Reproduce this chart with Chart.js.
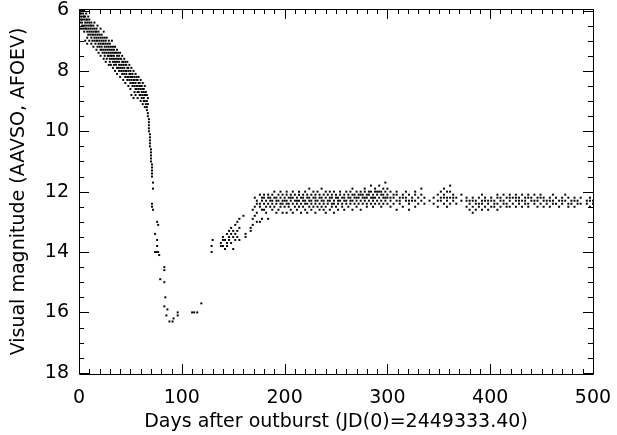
<!DOCTYPE html>
<html lang="en">
<head>
    <meta charset="UTF-8">
    <title>Visual light curve</title>
    <script src="https://cdn.jsdelivr.net/npm/chart.js"></script>
    <style>
        body {
            margin: 0;
            background: #ffffff;
        }
        #lightCurve {
            display: block;
        }
    </style>
</head>
<body>
    <canvas id="lightCurve" width="617" height="435"></canvas>

    <script>
        // slow decline from maximum: one row of estimates per day
        const declineDays = [0, 1, 2, 3, 4, 5, 6, 7, 8, 9, 10, 11, 12, 13, 14, 15, 16, 17, 18, 19, 20, 21, 22, 23,
            24, 25, 26, 27, 28, 29, 30, 31, 32, 33, 34, 35, 36, 37, 38, 39, 40, 41, 42, 43, 44, 45, 46, 47,
            48, 49, 50, 51, 52, 53, 54, 55, 56, 57, 58, 59, 60, 61, 62, 63, 64, 65, 66, 67];
        const declineMags = [
            [5.9, 6.0, 6.2, 6.3, 6.5], [6.0, 6.1, 6.4], [5.9, 6.1, 6.2, 6.3, 6.6], [6.0, 6.3, 6.4, 6.5],
            [6.1, 6.2, 6.6], [6.0, 6.2, 6.3, 6.5, 6.7], [6.2, 6.4, 6.6, 7.0], [6.1, 6.3, 6.5, 6.6],
            [6.3, 6.4, 6.7, 6.9, 7.1], [6.2, 6.5, 6.6, 6.8], [6.3, 6.4, 6.7, 7.0], [6.5, 6.6, 6.8],
            [6.4, 6.5, 6.7, 6.9, 7.1], [6.6, 6.8, 7.0], [6.5, 6.7, 6.8, 7.2], [6.4, 6.6, 6.9, 7.0],
            [6.7, 6.8, 7.1], [6.6, 6.7, 6.9, 7.0, 7.3], [6.5, 6.8, 7.0, 7.2], [6.7, 6.9, 7.1, 7.4],
            [6.8, 7.0, 7.2], [6.6, 6.9, 7.1, 7.3, 7.5], [6.8, 7.0, 7.2, 7.3], [6.9, 7.1, 7.4],
            [6.7, 7.0, 7.1, 7.3, 7.6], [6.9, 7.2, 7.4, 7.5], [7.0, 7.1, 7.3, 7.7], [6.9, 7.2, 7.4, 7.6],
            [7.1, 7.3, 7.5], [7.0, 7.2, 7.4, 7.5, 7.8], [7.1, 7.3, 7.6, 7.7], [7.2, 7.4, 7.5, 7.8],
            [7.0, 7.3, 7.5, 7.6], [7.2, 7.4, 7.7, 7.9], [7.3, 7.5, 7.6, 7.8], [7.2, 7.4, 7.7, 8.0],
            [7.4, 7.6, 7.8], [7.3, 7.5, 7.7, 7.9, 8.1], [7.4, 7.6, 7.9], [7.5, 7.7, 7.8, 8.0],
            [7.4, 7.6, 7.9, 8.2], [7.6, 7.8, 8.0], [7.5, 7.7, 7.9, 8.1], [7.7, 7.8, 8.0, 8.3],
            [7.6, 7.9, 8.1], [7.7, 7.8, 8.0, 8.2, 8.4], [7.8, 8.0, 8.1], [7.7, 7.9, 8.2, 8.3],
            [7.9, 8.0, 8.2, 8.5], [7.8, 8.1, 8.3], [8.0, 8.1, 8.2, 8.4, 8.6], [7.9, 8.2, 8.3, 8.8],
            [8.1, 8.2, 8.4, 8.5], [8.0, 8.3, 8.4, 8.9], [8.2, 8.3, 8.5, 8.7], [8.1, 8.4, 8.6, 8.8],
            [8.2, 8.3, 8.5, 8.6], [8.3, 8.5, 8.7, 8.9], [8.2, 8.4, 8.6, 8.7], [8.4, 8.5, 8.8],
            [8.3, 8.5, 8.6, 8.8, 9.0], [8.5, 8.7, 8.9], [8.4, 8.6, 8.8, 9.1], [8.6, 8.7, 8.9, 9.0],
            [8.5, 8.8, 9.0, 9.2], [8.7, 8.8, 9.1], [8.8, 9.0, 9.2, 9.3], [8.9, 9.1, 9.4, 9.5]
        ];

        // fast fade, dust minimum and recovery: single estimates
        const fadeDays = [68, 68, 68, 68, 68, 69, 69, 69, 69, 69, 70, 70, 70, 70, 70, 71, 71, 71, 71, 71, 72, 72,
            71, 71, 72, 76, 77, 74, 76, 76, 74, 75, 77, 78, 83, 83, 79, 83, 84, 83, 86, 85, 88, 91, 92, 96, 96,
            110, 112, 115, 119,
            129, 129, 130, 138, 138, 140, 140, 140, 142, 142, 144, 144, 144, 146, 146, 146, 148, 148, 148,
            150, 150, 150, 152, 152, 152, 154, 154, 154, 156, 156, 156, 160, 162, 162, 167, 167];
        const fadeMags = [9.6, 9.7, 9.8, 9.9, 10.0, 10.1, 10.2, 10.3, 10.4, 10.5, 10.6, 10.7, 10.8, 10.9, 11.0,
            11.1, 11.2, 11.3, 11.4, 11.5, 11.7, 11.9,
            12.4, 12.5, 12.6, 13.0, 13.1, 13.4, 13.6, 13.8, 14.0, 14.0, 14.0, 14.1, 14.5, 14.6, 14.9, 15.0, 15.5,
            15.8, 15.9, 16.1, 16.3, 16.3, 16.2, 16.0, 16.1,
            16.0, 16.0, 16.0, 15.7,
            13.8, 14.0, 13.6, 13.7, 13.8, 13.5, 13.6, 13.8, 13.6, 13.9, 13.4, 13.7, 13.8, 13.3, 13.5, 13.6,
            13.2, 13.4, 13.7, 13.3, 13.5, 13.9, 13.1, 13.4, 13.6, 13.0, 13.3, 13.5, 12.9, 13.2, 13.6, 12.8,
            13.4, 13.5, 13.2, 13.3];

        // long plateau after recovery
        const plateauDays = [169, 171, 173, 176, 178, 180, 182, 184, 186, 188, 190, 192, 194, 196, 198, 200,
            202, 204, 206, 208, 210, 212, 214, 216, 218, 220, 222, 224, 226, 228, 230, 232, 234, 236, 238,
            240, 242, 244, 246, 248, 250, 252, 254, 256, 258, 260, 262, 264, 266, 268, 270, 272, 274, 276,
            278, 280, 282, 284, 286, 288, 290, 292, 294, 296, 298, 300,
            303, 306, 309, 312, 315, 318, 321, 324, 327, 330, 333, 336, 341, 345, 349, 352, 355, 358, 361,
            364, 367, 372, 377, 380, 383, 386, 389, 392, 395, 398, 401, 404, 407, 410, 413, 416, 419, 422,
            425, 428, 431, 434, 437, 440, 443, 446, 449, 452, 455, 458, 461, 464, 467, 470, 473, 476, 479,
            482, 485, 488, 494, 497, 500];
        const plateauMags = [
            [12.6, 12.9, 13.1], [12.2, 12.5, 12.8], [12.3, 12.4, 12.7, 13.0], [12.1, 12.4, 12.5, 13.0],
            [12.2, 12.3, 12.6, 12.9], [12.1, 12.2, 12.4, 12.6], [12.3, 12.5, 12.7], [12.1, 12.2, 12.4, 12.9],
            [12.2, 12.3, 12.5], [12.1, 12.3, 12.4, 12.6], [12.0, 12.2, 12.5], [12.2, 12.3, 12.4, 12.7],
            [12.1, 12.3, 12.6], [12.0, 12.2, 12.4, 12.5], [12.1, 12.3, 12.4, 12.7], [12.2, 12.3, 12.5],
            [12.0, 12.1, 12.3, 12.4, 12.7], [12.2, 12.4, 12.5], [12.1, 12.2, 12.3, 12.6], [12.0, 12.2, 12.4, 12.7],
            [12.1, 12.3, 12.5], [12.2, 12.3, 12.4, 12.6], [12.0, 12.1, 12.3, 12.5], [12.2, 12.4, 12.7],
            [12.1, 12.2, 12.3, 12.5], [12.0, 12.3, 12.4, 12.6], [12.1, 12.2, 12.4, 12.7], [11.9, 12.2, 12.3, 12.5],
            [12.1, 12.3, 12.4, 12.6], [12.0, 12.2, 12.5], [12.1, 12.2, 12.3, 12.4, 12.7], [12.0, 12.3, 12.5],
            [12.1, 12.2, 12.4, 12.6], [11.9, 12.2, 12.3, 12.5], [12.1, 12.3, 12.4, 12.6], [12.0, 12.2, 12.5, 12.7],
            [12.1, 12.3, 12.4], [12.0, 12.2, 12.3, 12.6], [12.1, 12.2, 12.4, 12.5], [12.0, 12.3, 12.4, 12.7],
            [12.1, 12.2, 12.5], [12.2, 12.3, 12.4, 12.6], [12.0, 12.1, 12.3], [12.2, 12.4, 12.5],
            [12.1, 12.2, 12.3, 12.6], [12.0, 12.3, 12.4], [12.1, 12.2, 12.5], [12.0, 12.2, 12.3, 12.4],
            [11.9, 12.1, 12.3, 12.6], [12.1, 12.2, 12.4], [12.0, 12.2, 12.3, 12.5], [12.1, 12.2, 12.4],
            [12.0, 12.1, 12.3, 12.6], [12.1, 12.2, 12.4], [11.9, 12.0, 12.2, 12.3], [12.1, 12.2, 12.4, 12.5],
            [12.0, 12.1, 12.3], [11.8, 12.0, 12.2, 12.4], [12.1, 12.2, 12.3, 12.5], [11.9, 12.0, 12.2, 12.4],
            [12.0, 12.1, 12.3], [11.8, 12.0, 12.2, 12.4], [12.0, 12.1, 12.3, 12.5], [11.9, 12.1, 12.2, 12.4],
            [11.7, 12.0, 12.2, 12.3], [11.9, 12.1, 12.2, 12.4],
            [12.0, 12.2, 12.3, 12.5], [12.1, 12.2, 12.4], [12.0, 12.1, 12.3, 12.6], [12.2, 12.3, 12.4],
            [12.1, 12.2, 12.5], [12.0, 12.2, 12.3], [12.1, 12.3, 12.4, 12.6], [12.2, 12.3],
            [12.0, 12.1, 12.3, 12.5], [12.2, 12.4], [11.9, 12.1, 12.3], [12.2, 12.4], [12.3], [12.2, 12.4],
            [12.1, 12.3, 12.5], [12.0, 12.2, 12.3], [11.9, 12.1, 12.2, 12.4], [12.0, 12.2, 12.3, 12.5],
            [11.8, 12.0, 12.2, 12.4], [12.1, 12.2, 12.3], [12.2, 12.4], [12.1, 12.3], [12.2, 12.3, 12.5],
            [12.3, 12.4, 12.6], [12.2, 12.3, 12.5, 12.7], [12.3, 12.4, 12.6], [12.2, 12.4, 12.5],
            [12.1, 12.3, 12.4, 12.6], [12.2, 12.3, 12.5], [12.3, 12.4, 12.6], [12.2, 12.3, 12.5],
            [12.3, 12.4, 12.5], [12.1, 12.2, 12.4, 12.6], [12.2, 12.3, 12.5], [12.1, 12.3, 12.4],
            [12.2, 12.4, 12.5], [12.1, 12.2, 12.3, 12.5], [12.2, 12.4], [12.1, 12.2, 12.3, 12.5],
            [12.2, 12.3, 12.4], [12.1, 12.3, 12.5], [12.2, 12.3, 12.4], [12.1, 12.2, 12.4, 12.5], [12.2, 12.3],
            [12.1, 12.3, 12.4], [12.2, 12.3, 12.5], [12.1, 12.2, 12.4], [12.2, 12.3, 12.5], [12.3, 12.4],
            [12.2, 12.3, 12.5], [12.1, 12.3, 12.4], [12.2, 12.4], [12.3, 12.5], [12.2, 12.3, 12.4], [12.1, 12.3],
            [12.2, 12.4, 12.5], [12.3, 12.4], [12.2, 12.3, 12.5], [12.3, 12.4], [12.2, 12.4], [12.3, 12.4],
            [12.2, 12.3, 12.5], [12.3, 12.4]
        ];

        const xTicks = [0, 100, 200, 300, 400, 500];
        const yTicks = [6, 8, 10, 12, 14, 16, 18];

        function perDay(days, mags) {
            const pts = [];
            days.forEach((d, i) => mags[i].forEach(m => pts.push({ x: d, y: m })));
            return pts;
        }

        const pointStyle = {
            showLine: false,
            pointStyle: 'rect',
            pointRadius: 1.4,
            pointBorderWidth: 0,
            pointBorderColor: '#000',
            pointBackgroundColor: '#000'
        };

        // IDL style frame with inward ticks on all four sides
        const framePlugin = {
            id: 'frame',
            afterDraw(chart) {
                const { ctx, chartArea: a, scales: { x, y } } = chart;
                ctx.save();
                ctx.strokeStyle = '#000';
                ctx.lineWidth = 1;
                ctx.beginPath();
                ctx.rect(Math.round(a.left) + 0.5, Math.round(a.top) + 0.5,
                    Math.round(a.right - a.left), Math.round(a.bottom - a.top));
                for (let v = 0; v <= 500; v += 10) {
                    const px = Math.round(x.getPixelForValue(v)) + 0.5;
                    const len = v % 100 === 0 ? 10 : 5;
                    ctx.moveTo(px, a.bottom); ctx.lineTo(px, a.bottom - len);
                    ctx.moveTo(px, a.top); ctx.lineTo(px, a.top + len);
                }
                for (let v = 6; v <= 18; v += 0.5) {
                    const py = Math.round(y.getPixelForValue(v)) + 0.5;
                    const len = v % 2 === 0 ? 10 : 5;
                    ctx.moveTo(a.left, py); ctx.lineTo(a.left + len, py);
                    ctx.moveTo(a.right, py); ctx.lineTo(a.right - len, py);
                }
                ctx.stroke();
                ctx.restore();
            }
        };

        const axisFont = { family: 'DejaVu Sans', size: 19, lineHeight: 1.2 };

        new Chart(document.getElementById('lightCurve'), {
            type: 'scatter',
            data: {
                datasets: [
                    { data: perDay(declineDays, declineMags), ...pointStyle },
                    { data: fadeDays.map((d, i) => ({ x: d, y: fadeMags[i] })), ...pointStyle },
                    { data: perDay(plateauDays, plateauMags), ...pointStyle }
                ]
            },
            options: {
                responsive: false,
                animation: false,
                devicePixelRatio: 1,
                layout: { padding: { top: 9, right: 24, left: 0, bottom: 0 } },
                plugins: {
                    legend: { display: false },
                    tooltip: { enabled: false }
                },
                scales: {
                    x: {
                        type: 'linear',
                        min: 0,
                        max: 500,
                        grid: { display: false, drawTicks: false },
                        border: { display: false },
                        ticks: { color: '#000', font: axisFont, padding: 13, maxRotation: 0 },
                        title: {
                            display: true,
                            text: 'Days after outburst (JD(0)=2449333.40)',
                            color: '#000',
                            font: axisFont,
                            padding: { top: 0, bottom: 2 }
                        },
                        afterBuildTicks(s) { s.ticks = xTicks.map(v => ({ value: v })); },
                        afterFit(s) {
                            s.height = 61;
                            s.paddingLeft = 0; s.paddingRight = 0;
                        }
                    },
                    y: {
                        type: 'linear',
                        reverse: true,
                        min: 5.95,
                        max: 18.04,
                        grid: { display: false, drawTicks: false },
                        border: { display: false },
                        ticks: { color: '#000', font: axisFont, padding: 10 },
                        title: {
                            display: true,
                            text: 'Visual magnitude (AAVSO, AFOEV)',
                            color: '#000',
                            font: axisFont,
                            padding: { top: 8, bottom: 0 }
                        },
                        afterBuildTicks(s) { s.ticks = yTicks.map(v => ({ value: v })); },
                        afterFit(s) {
                            s.width = 79;
                            s.paddingTop = 0; s.paddingBottom = 0;
                        }
                    }
                }
            },
            plugins: [framePlugin]
        });
    </script>
</body>
</html>
